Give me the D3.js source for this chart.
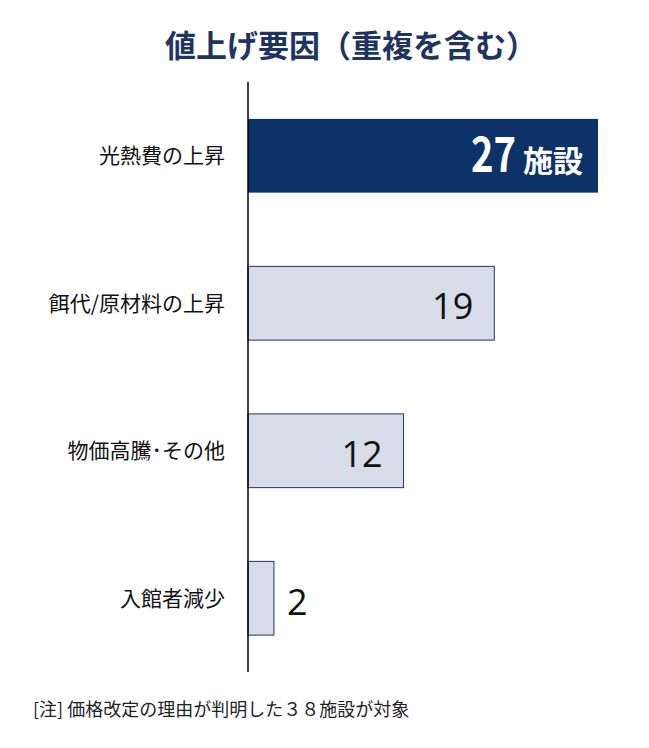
<!DOCTYPE html>
<html><head><meta charset="utf-8">
<script src="https://cdn.jsdelivr.net/npm/d3@7"></script>
<style>body{margin:0;background:#fff;font-family:"Noto Sans CJK JP","Noto Sans",sans-serif;}</style>
</head><body>
<svg id="c" width="649" height="748"></svg>
<script>
const categories = ["光熱費の上昇","餌代/原材料の上昇","物価高騰･その他","入館者減少"];
const values = [27, 19, 12, 2];
const title = "値上げ要因（重複を含む）";
const note = "[注] 価格改定の理由が判明した３８施設が対象";
const unit = "施設";

const svg = d3.select("#c");
const font = "'Noto Sans CJK JP', sans-serif";
const x = d3.scaleLinear().domain([0, 27]).range([248, 598]);
const y = d3.scaleBand().domain(categories).range([82, 672]).paddingInner(0.5).paddingOuter(0.25);

svg.append("text").attr("x", 351).attr("y", 57).attr("text-anchor", "middle")
  .attr("font-family", font).attr("font-size", 31).attr("font-weight", 700)
  .attr("fill", "#1f3560").text(title);

svg.selectAll("rect.bar").data(values).join("rect").attr("class","bar")
  .attr("x", x(0)).attr("y", (d,i)=>y(categories[i]))
  .attr("width", d=>x(d)-x(0)).attr("height", y.bandwidth())
  .attr("fill", (d,i)=> i===0 ? "#0d3169" : "#d6dde8")
  .attr("stroke", (d,i)=> i===0 ? "none" : "#1f3560").attr("stroke-width", 1);

svg.append("line").attr("x1", x(0)).attr("x2", x(0)).attr("y1", 82).attr("y2", 672)
  .attr("stroke", "#000").attr("stroke-width", 1.5);

svg.selectAll("text.cat").data(categories).join("text").attr("class","cat")
  .attr("x", 225).attr("y", d=>y(d)+y.bandwidth()/2).attr("dy","0.36em")
  .attr("text-anchor","end").attr("font-family", font).attr("font-size", 21)
  .attr("fill","#111").text(d=>d);

values.forEach((v,i)=>{
  const cy = y(categories[i]) + y.bandwidth()/2;
  if (i===0) {
    svg.append("text").attr("x", x(v)-15).attr("y", cy+16)
      .attr("text-anchor","end").attr("font-family", font).attr("fill","#fff")
      .attr("font-weight",700).attr("font-size", 30).text(unit);
    svg.append("text").attr("x", x(v)-127).attr("y", cy+16)
      .attr("font-family", font).attr("fill","#fff").attr("font-weight",700)
      .attr("font-size", 48).attr("textLength", 45).attr("lengthAdjust","spacingAndGlyphs").text(v);
  } else if (v >= 5) {
    svg.append("text").attr("x", x(v)-21).attr("y", cy+16)
      .attr("text-anchor","end").attr("font-family", "'Open Sans', sans-serif").attr("font-size", 36)
      .attr("fill","#111").text(v);
  } else {
    svg.append("text").attr("x", x(v)+13).attr("y", cy+17)
      .attr("text-anchor","start").attr("font-family", "'Open Sans', sans-serif").attr("font-size", 36)
      .attr("fill","#111").text(v);
  }
});

svg.append("text").attr("x", 33).attr("y", 716).attr("font-family", font)
  .attr("font-size", 18).attr("fill","#222").text(note);
</script>
</body></html>
